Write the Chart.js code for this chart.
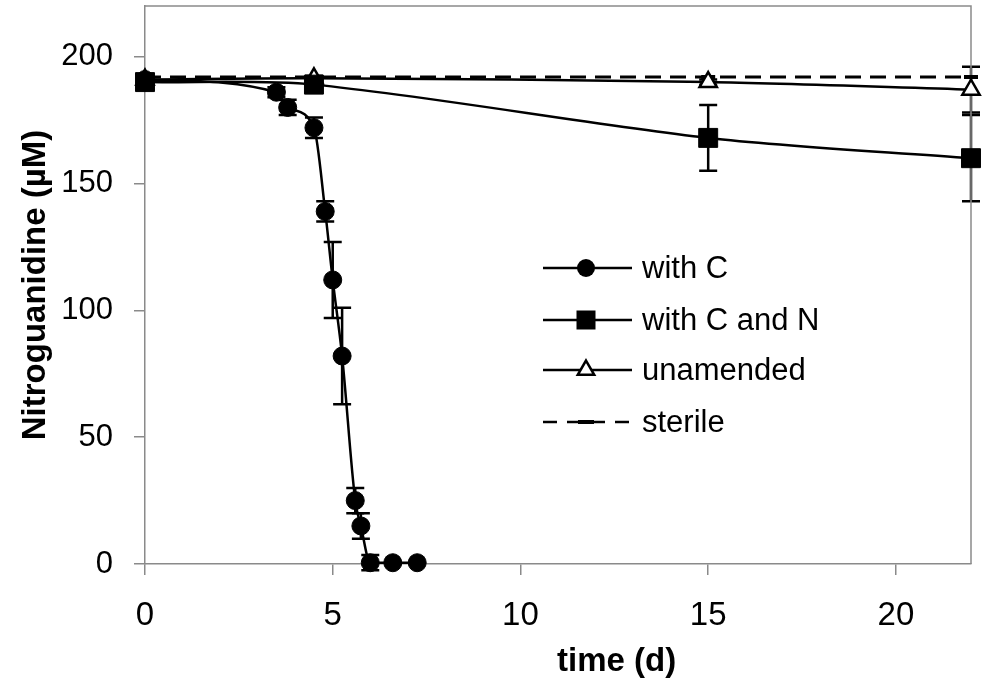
<!DOCTYPE html>
<html>
<head>
<meta charset="utf-8">
<script src="https://cdn.jsdelivr.net/npm/chart.js@4/dist/chart.umd.min.js"></script>
<style>
html,body{margin:0;padding:0;background:#fff;}
#wrap{width:983px;height:681px;position:relative;}
</style>
</head>
<body>
<div id="wrap"><canvas id="c" width="983" height="681"></canvas></div>
<script>
// ---- data ----
const xTicks = [0, 5, 10, 15, 20];
const yTicks = [0, 50, 100, 150, 200];

const withC_days = [0, 3.5, 3.8, 4.5, 4.8, 5.0, 5.25, 5.6, 5.75, 6.0, 6.6, 7.25];
const withC_vals = [191, 186, 180, 172, 139, 112, 82, 25, 15, 0.5, 0.5, 0.5];
const withC_err  = [1, 2, 3, 4, 4, 15, 19, 5, 5, 3, 0, 0];

const withCN_days = [0, 4.5, 15, 22];
const withCN_vals = [190, 189, 168, 160];
const withCN_err  = [1, 2, 13, 17];

const unam_days = [0, 4.5, 15, 22];
const unam_vals = [191, 191.5, 190, 187];
const unam_err  = [1, 1, 1, 9];

const sterile_days = [0, 4.5, 15, 22];
const sterile_vals = [192, 192, 192, 192];
const sterile_err  = [0, 0, 0, 0];

const seriesLabels = ['with C', 'with C and N', 'unamended', 'sterile'];

function pts(xs, ys){ return xs.map((x,i)=>({x:x, y:ys[i]})); }

const FONT = "'Liberation Sans', Arial, sans-serif";

const errorBars = {
  id:'errorBars',
  beforeDatasetsDraw(chart){
    const ctx = chart.ctx, ys = chart.scales.y;
    chart.data.datasets.forEach((ds, di)=>{
      const meta = chart.getDatasetMeta(di);
      if(!ds.err) return;
      ctx.save();
      ctx.strokeStyle = '#000'; ctx.lineWidth = 2.5;
      meta.data.forEach((pt, i)=>{
        const e = ds.err[i]; if(!e) return;
        const v = ds.data[i].y;
        const t = ys.getPixelForValue(v+e), b = ys.getPixelForValue(v-e);
        ctx.beginPath();
        ctx.moveTo(pt.x, t); ctx.lineTo(pt.x, b);
        ctx.moveTo(pt.x-9, t); ctx.lineTo(pt.x+9, t);
        ctx.moveTo(pt.x-9, b); ctx.lineTo(pt.x+9, b);
        ctx.stroke();
      });
      ctx.restore();
    });
  }
};

const decor = {
  id:'decor',
  afterDraw(chart){
    const ctx = chart.ctx, a = chart.chartArea;
    ctx.save();
    // x title
    ctx.fillStyle = '#000';
    ctx.font = "bold 33px " + FONT;
    ctx.textAlign = 'center'; ctx.textBaseline = 'middle';
    ctx.fillText('time (d)', a.left + 0.571*(a.right-a.left), 662);
    // legend
    const rows = [268, 320, 370, 422];
    const x0 = 543, x1 = 632, xm = 586, xt = 642;
    ctx.font = "31px " + FONT;
    ctx.textAlign = 'left';
    rows.forEach((ry, i)=>{
      ctx.strokeStyle = '#000'; ctx.lineWidth = 2.5;
      ctx.setLineDash(i===3 ? [14,10] : []);
      ctx.beginPath(); ctx.moveTo(x0, ry); ctx.lineTo(x1, ry); ctx.stroke();
      ctx.setLineDash([]);
      if(i===0){ ctx.fillStyle='#000'; ctx.beginPath(); ctx.arc(xm, ry, 9, 0, Math.PI*2); ctx.fill(); }
      if(i===1){ ctx.fillStyle='#000'; ctx.fillRect(xm-9.5, ry-9.5, 19, 19); }
      if(i===2){ ctx.fillStyle='#fff'; ctx.lineWidth=2.5; const r=9.5;
        ctx.beginPath(); ctx.moveTo(xm, ry-r); ctx.lineTo(xm+r*0.866, ry+r*0.5); ctx.lineTo(xm-r*0.866, ry+r*0.5); ctx.closePath(); ctx.fill(); ctx.stroke(); }
      if(i===3){ ctx.lineWidth=4; ctx.beginPath(); ctx.moveTo(xm-8, ry); ctx.lineTo(xm+8, ry); ctx.stroke(); }
      ctx.fillStyle = '#000';
      ctx.fillText(seriesLabels[i], xt, ry+1);
    });
    ctx.restore();
  },
  beforeDatasetsDraw(chart){
    const ctx = chart.ctx, a = chart.chartArea;
    ctx.save();
    ctx.strokeStyle = '#8a8a8a'; ctx.lineWidth = 1.5;
    ctx.beginPath();
    ctx.moveTo(a.left, a.top); ctx.lineTo(a.right, a.top); ctx.lineTo(a.right, a.bottom);
    ctx.stroke();
    ctx.restore();
  }
};

const common = {borderColor:'#000', borderWidth:2.5, fill:false, clip:false};

new Chart(document.getElementById('c'), {
  type:'line',
  data:{
    datasets:[
      Object.assign({label:seriesLabels[0], data:pts(withC_days, withC_vals), err:withC_err, cubicInterpolationMode:'monotone',
        pointStyle:'circle', pointRadius:9, pointBackgroundColor:'#000', pointBorderColor:'#000', pointBorderWidth:1}, common),
      Object.assign({label:seriesLabels[1], data:pts(withCN_days, withCN_vals), err:withCN_err, tension:0.3,
        pointStyle:'rect', pointRadius:13.4, pointBackgroundColor:'#000', pointBorderColor:'#000', pointBorderWidth:1}, common),
      Object.assign({label:seriesLabels[2], data:pts(unam_days, unam_vals), err:unam_err, tension:0.3,
        pointStyle:'triangle', pointRadius:10, pointBackgroundColor:'#fff', pointBorderColor:'#000', pointBorderWidth:2.5}, common),
      Object.assign({label:seriesLabels[3], data:pts(sterile_days, sterile_vals), err:sterile_err,
        pointStyle:'line', pointRadius:7, pointBackgroundColor:'#000', pointBorderColor:'#000', pointBorderWidth:4,
        borderDash:[16,9]}, common, {borderWidth:3})
    ]
  },
  options:{
    responsive:false, animation:false,
    layout:{padding:{left:0, top:6, right:12, bottom:0}, autoPadding:false},
    plugins:{legend:{display:false}, tooltip:{enabled:false}},
    scales:{
      x:{type:'linear', min:0, max:22,
        afterBuildTicks(s){ s.ticks = xTicks.map(v=>({value:v})); },
        afterFit(s){ s.height = 117; s.paddingLeft = 0; s.paddingRight = 0; },
        grid:{drawOnChartArea:false, drawTicks:true, tickLength:11, color:'#8a8a8a', lineWidth:1.5},
        border:{display:true, color:'#8a8a8a', width:1.5},
        ticks:{font:{family:FONT, size:33}, color:'#000', padding:21, maxRotation:0, autoSkip:false}
      },
      y:{type:'linear', min:0, max:220,
        afterBuildTicks(s){ s.ticks = yTicks.map(v=>({value:v})); },
        afterFit(s){ s.width = 145; s.paddingTop = 0; s.paddingBottom = 0; },
        grid:{drawOnChartArea:false, drawTicks:true, tickLength:11, color:'#8a8a8a', lineWidth:1.5},
        border:{display:true, color:'#8a8a8a', width:1.5},
        ticks:{font:{family:FONT, size:31}, color:'#000', padding:21, autoSkip:false},
        title:{display:true, text:'Nitroguanidine (\u00b5M)', color:'#000',
          font:{family:FONT, size:33, weight:'bold'}, padding:{top:16, bottom:0}}
      }
    }
  },
  plugins:[errorBars, decor]
});
</script>
</body>
</html>
